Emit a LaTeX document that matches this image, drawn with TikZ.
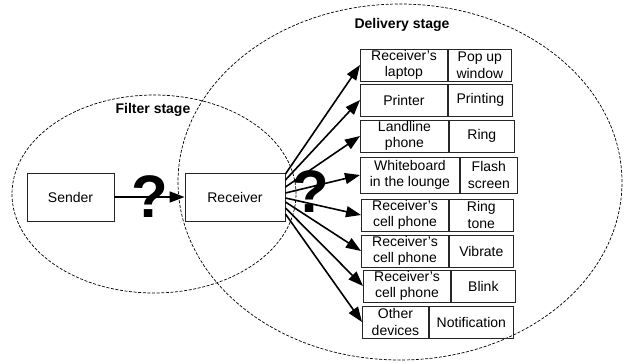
\documentclass[tikz,border=0pt]{standalone}
\usepackage{fontspec}
\setmainfont{Liberation Sans}
\usepackage{tikz}
\usetikzlibrary{positioning}
\usetikzlibrary{calc,arrows.meta}

\begin{document}
\begin{tikzpicture}[x=1pt, y=-1pt,
Bnode/.style={rectangle, draw=black!85, line width=0.9pt, inner sep=0pt, align=center, minimum height=32pt, font=\fontsize{14}{16.5}\selectfont},
Qnode/.style={inner sep=0pt, font=\fontsize{60}{60}\selectfont\bfseries},
Lnode/.style={inner sep=0pt, font=\fontsize{14}{16}\selectfont\bfseries},
Sline/.style={dash pattern=on 3pt off 1.6pt, line width=0.7pt},
Aline/.style={-{Triangle[length=15pt, width=11pt]}, line width=1.6pt},
node distance=0pt
]
\useasboundingbox (0,0) rectangle (624,362);

%Stages
\draw[Sline] (154,194) ellipse [x radius=142pt, y radius=99pt];
\draw[Sline] (400,182) ellipse [x radius=222pt, y radius=178pt];
\node[Lnode] (FS) at (153,110) {Filter stage};
\node[Lnode] (DS) at (402,25) {Delivery stage};

%Nodes
\node[Bnode, minimum width=87pt, minimum height=48pt] (S) at (70.5,197) {Sender};
\node[Bnode, minimum width=100pt, minimum height=48pt] (R) at (235,197) {Receiver};

\node[Bnode, minimum width=87pt, anchor=west] (D1) at (360,65) {Receiver’s\\laptop};
\node[Bnode, minimum width=63pt] (M1) [right=of D1] {Pop up\\window};
\node[Bnode, minimum width=87pt, anchor=west] (D2) at (360,100) {Printer};
\node[Bnode, minimum width=64pt] (M2) [right=of D2] {Printing};
\node[Bnode, minimum width=88pt, anchor=west] (D3) at (360,136) {Landline\\phone};
\node[Bnode, minimum width=65pt] (M3) [right=of D3] {Ring};
\node[Bnode, minimum width=99pt, minimum height=36pt, anchor=west] (D4) at (360,175) {Whiteboard\\in the lounge};
\node[Bnode, minimum width=57pt, minimum height=36pt] (M4) [right=of D4] {Flash\\screen};
\node[Bnode, minimum width=87pt, anchor=west] (D5) at (361,215) {Receiver’s\\cell phone};
\node[Bnode, minimum width=64pt] (M5) [right=of D5] {Ring\\tone};
\node[Bnode, minimum width=87pt, anchor=west] (D6) at (361,251) {Receiver’s\\cell phone};
\node[Bnode, minimum width=64pt] (M6) [right=of D6] {Vibrate};
\node[Bnode, minimum width=87pt, anchor=west] (D7) at (363,286) {Receiver’s\\cell phone};
\node[Bnode, minimum width=64pt] (M7) [right=of D7] {Blink};
\node[Bnode, minimum width=66pt, anchor=west] (D8) at (362,322) {Other\\devices};
\node[Bnode, minimum width=84pt] (M8) [right=of D8] {Notification};

%Lines
\draw[Aline] (S.east) -- (R.west);
\draw[Aline] ([yshift=23pt]R.east) -- (D1.west);
\draw[Aline] ([yshift=17pt]R.east) -- (D2.west);
\draw[Aline] ([yshift=10pt]R.east) -- (D3.west);
\draw[Aline] ([yshift=4pt]R.east) -- (D4.west);
\draw[Aline] ([yshift=-1pt]R.east) -- (D5.west);
\draw[Aline] ([yshift=-5pt]R.east) -- (D6.west);
\draw[Aline] ([yshift=-11pt]R.east) -- (D7.west);
\draw[Aline] ([yshift=-17pt]R.east) -- (D8.west);

%Question marks
\node[Qnode] (Q1) at (150,197) {?};
\node[Qnode] (Q2) at (311,192) {?};
\end{tikzpicture}
\end{document}
